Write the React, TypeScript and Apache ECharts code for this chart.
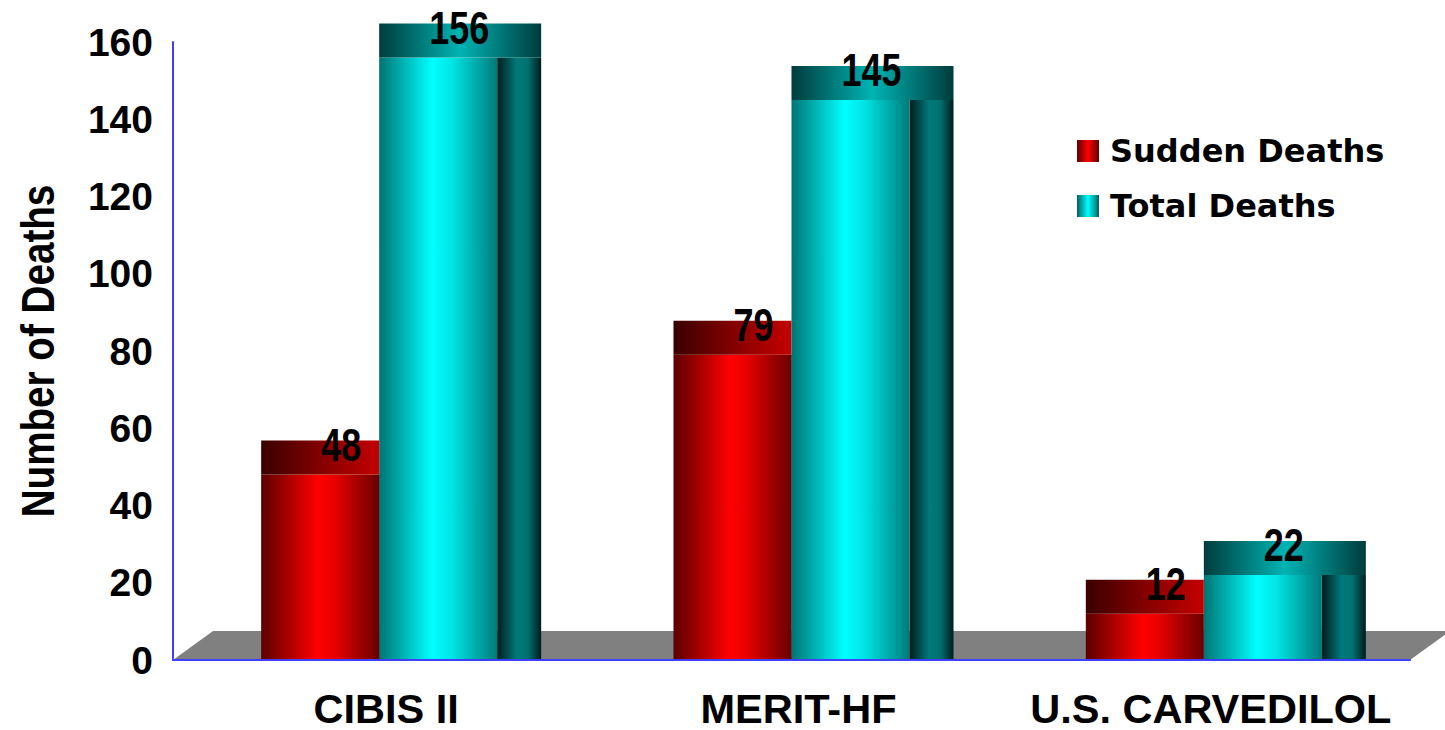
import React, { useEffect, useRef } from "react";
import * as echarts from "echarts";

// Trial categories and death counts
const categories = ["CIBIS II", "MERIT-HF", "U.S. CARVEDILOL"];
const suddenDeaths = [48, 79, 12];
const totalDeaths = [156, 145, 22];
const seriesNames = ["Sudden Deaths", "Total Deaths"];
const yTitle = "Number of Deaths";

// Value axis range
const Y_MIN = 0;
const Y_MAX = 160;
const Y_STEP = 20;

// Layout (pixels)
const GRID_LEFT = 173;
const GRID_RIGHT = 35;
const GRID_TOP = 42;
const GRID_BOTTOM = 70;
const WIDTH = 1445;
const HEIGHT = 730;
const BAR_RATIO = 0.2862; // bar width as share of the category band
const SIDE_W = 44; // depth face width
const CAP_H = 34; // top face height
const LABEL_DX = 21;
const LABEL_DY = 4;
const FLOOR_DX = 40;
const FLOOR_DY = 29;

const SANS = '"Liberation Sans", Arial, Helvetica, sans-serif';

const grad = (stops: [number, string][]) =>
  new echarts.graphic.LinearGradient(
    0,
    0,
    1,
    0,
    stops.map(([offset, color]) => ({ offset, color }))
  );

const palettes = [
  {
    front: [[0, "#5c0000"], [0.48, "#ff0000"], [0.62, "#e80000"], [1, "#680000"]] as [number, string][],
    side: [[0, "#200000"], [0.5, "#800000"], [1, "#200000"]] as [number, string][],
    cap: [[0, "#3a0000"], [0.55, "#8a0000"], [1, "#c40000"]] as [number, string][],
    icon: [[0, "#600000"], [0.5, "#ff0000"], [1, "#600000"]] as [number, string][],
  },
  {
    front: [[0, "#007474"], [0.45, "#00ffff"], [0.62, "#00e4e4"], [1, "#007a7a"]] as [number, string][],
    side: [[0, "#001c1c"], [0.45, "#007a7a"], [0.7, "#007070"], [1, "#001c1c"]] as [number, string][],
    cap: [[0, "#003c3c"], [0.5, "#00b4b4"], [1, "#003c3c"]] as [number, string][],
    icon: [[0, "#006060"], [0.5, "#00ffff"], [1, "#006060"]] as [number, string][],
  },
];

function makeRenderItem(seriesIndex: number) {
  const pal = palettes[seriesIndex];
  return (params: any, api: any) => {
    const idx = api.value(0);
    const val = api.value(1);
    const top = api.coord([idx, val]);
    const base = api.coord([idx, 0]);
    const band = api.size([1, 0])[0];
    const w = band * BAR_RATIO;
    const x0 = seriesIndex === 0 ? top[0] - w : top[0];
    const h = base[1] - top[1];
    return {
      type: "group",
      children: [
        {
          type: "rect",
          shape: { x: x0 + w, y: top[1], width: SIDE_W, height: h },
          style: { fill: grad(pal.side) },
        },
        {
          type: "rect",
          shape: { x: x0, y: top[1], width: w, height: h },
          style: { fill: grad(pal.front) },
        },
        {
          type: "rect",
          shape: {
            x: x0,
            y: top[1] - CAP_H,
            width: seriesIndex === 0 ? w : w + SIDE_W,
            height: CAP_H,
          },
          style: { fill: grad(pal.cap) },
        },
        {
          // condensed value label
          type: "text",
          x: x0 + w / 2 + LABEL_DX,
          y: top[1] - CAP_H + LABEL_DY,
          scaleX: 0.765,
          style: {
            text: String(val),
            fill: "#000",
            font: `bold 47px ${SANS}`,
            lineHeight: 36,
            align: "center",
            verticalAlign: "middle",
          },
        },
      ],
    };
  };
}

export default function App() {
  const ref = useRef<HTMLDivElement>(null);

  useEffect(() => {
    if (!ref.current) return;
    const chart = echarts.init(ref.current, undefined, { renderer: "svg" });
    const baseY = HEIGHT - GRID_BOTTOM;
    const rightX = WIDTH - GRID_RIGHT;

    chart.setOption({
      animation: false,
      backgroundColor: "#ffffff",
      grid: { left: GRID_LEFT, right: GRID_RIGHT, top: GRID_TOP, bottom: GRID_BOTTOM },
      graphic: [
        {
          type: "polygon",
          z: -10,
          silent: true,
          shape: {
            points: [
              [GRID_LEFT, baseY],
              [GRID_LEFT + FLOOR_DX, baseY - FLOOR_DY],
              [rightX + FLOOR_DX, baseY - FLOOR_DY],
              [rightX, baseY],
            ],
          },
          style: { fill: "#808080" },
        },
        {
          // condensed, rotated value-axis title
          type: "text",
          x: 38,
          y: (GRID_TOP + baseY) / 2,
          rotation: Math.PI / 2,
          scaleX: 0.84,
          silent: true,
          style: {
            text: yTitle,
            fill: "#000",
            font: `bold 46px ${SANS}`,
            align: "center",
            verticalAlign: "middle",
          },
        },
      ],
      legend: {
        orient: "vertical",
        left: 1072,
        top: 129,
        itemWidth: 22,
        itemHeight: 22,
        itemGap: 21,
        icon: "rect",
        data: seriesNames,
        textStyle: {
          fontFamily: '"DejaVu Sans", Verdana, sans-serif',
          fontWeight: "bold",
          fontSize: 32,
          color: "#000",
          lineHeight: 34,
          padding: [0, 0, 0, 6],
        },
      },
      xAxis: {
        type: "category",
        data: categories,
        axisLine: { show: true, lineStyle: { color: "#3f3fff", width: 2 } },
        axisTick: { show: false },
        axisLabel: {
          interval: 0,
          color: "#000",
          fontFamily: SANS,
          fontWeight: "bold",
          fontSize: 41.5,
          margin: 27,
          padding: [0, 0, 0, 14],
        },
        z: 5,
      },
      yAxis: {
        type: "value",
        min: Y_MIN,
        max: Y_MAX,
        interval: Y_STEP,
        axisLine: { show: true, lineStyle: { color: "#3f3fff", width: 2 } },
        axisTick: { show: false },
        splitLine: { show: false },
        axisLabel: {
          color: "#000",
          fontFamily: SANS,
          fontWeight: "bold",
          fontSize: 39,
          margin: 20,
        },
        z: 5,
      },
      series: [suddenDeaths, totalDeaths].map((values, i) => ({
        type: "custom",
        name: seriesNames[i],
        renderItem: makeRenderItem(i),
        itemStyle: { color: grad(palettes[i].icon) },
        encode: { x: 0, y: 1 },
        data: values.map((v, k) => [k, v]),
        z: 2 + i,
      })),
    });

    return () => chart.dispose();
  }, []);

  return (
    <div
      ref={ref}
      style={{ position: "fixed", left: 0, top: 0, width: WIDTH, height: HEIGHT }}
    />
  );
}
